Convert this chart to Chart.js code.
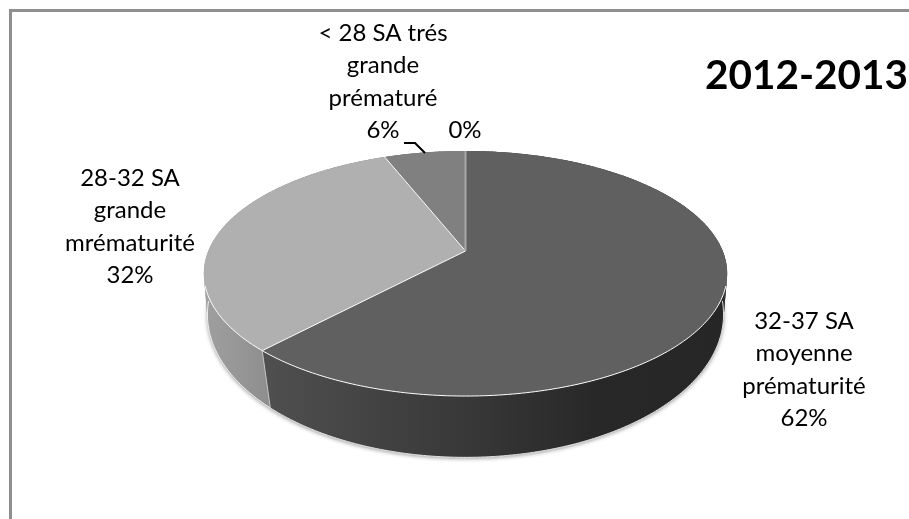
<!DOCTYPE html>
<html>
<head>
<meta charset="utf-8">
<title>2012-2013</title>
<script src="https://cdn.jsdelivr.net/npm/chart.js@4"></script>
<style>
  html, body { margin: 0; padding: 0; background: #fff; }
  canvas { display: block; }
</style>
</head>
<body>
<canvas id="myChart" width="909" height="519"></canvas>
<script>
const categories = [
    ['32-37 SA', 'moyenne', 'prématurité'],
    ['28-32 SA', 'grande', 'mrématurité'],
    ['< 28 SA trés', 'grande', 'prématuré'],
    []
];
const shares = [62, 32, 6, 0];
const sliceColors = ['#606060', '#b0b0b0', '#808080', '#8c8c8c'];
const chartTitle = '2012-2013';

const FONT = 'Lato, "Open Sans", sans-serif';

// tilted disc: the near half of each rim is bigger than the far half
const upperRim = { cx: 465.5, cy: 251, rx: 257.2, ry: 118.4, tilt: 0.1837 };
const lowerRim = { cx: 465.5, cy: 294, rx: 255.4, ry: 140, tilt: 0.143 };

function rimPoint(angle, lower) {
    const r = lower ? lowerRim : upperRim;
    const d = 1 - r.tilt * Math.sin(angle);
    return {
        x: r.cx + r.rx * Math.cos(angle) / d,
        y: r.cy + r.ry * Math.sin(angle) / d
    };
}

function traceRim(ctx, from, to, lower, moveFirst) {
    const steps = Math.max(1, Math.ceil(Math.abs(to - from) / 0.015));
    for (let i = 0; i <= steps; i++) {
        const p = rimPoint(from + (to - from) * i / steps, lower);
        if (i === 0 && moveFirst) ctx.moveTo(p.x, p.y);
        else ctx.lineTo(p.x, p.y);
    }
}

function wallGradient(ctx, stops) {
    const g = ctx.createLinearGradient(205, 0, 727, 0);
    stops.forEach(s => g.addColorStop(s[0], s[1]));
    return g;
}

const pie3d = {
    id: 'pie3d',
    beforeDraw(chart) {
        // frame runs off the top right and bottom left of the page
        const ctx = chart.ctx;
        ctx.save();
        ctx.strokeStyle = '#8f8f8f';
        ctx.lineWidth = 3;
        ctx.beginPath();
        ctx.moveTo(10.5, 519);
        ctx.lineTo(10.5, 10.5);
        ctx.lineTo(909, 10.5);
        ctx.stroke();
        ctx.restore();
    },
    beforeDatasetsDraw(chart) {
        const ctx = chart.ctx;
        const arcs = chart.getDatasetMeta(0).data;
        const walls = [
            wallGradient(ctx, [[0, '#525252'], [0.12, '#4f4f4f'], [0.5, '#383838'], [0.75, '#282828'], [1, '#262626']]),
            wallGradient(ctx, [[0, '#a0a0a0'], [0.12, '#8e8e8e'], [1, '#8e8e8e']]),
            '#666666',
            '#666666'
        ];
        ctx.save();

        // soft shadow under the disc
        ctx.save();
        ctx.shadowColor = 'rgba(0,0,0,0.45)';
        ctx.shadowBlur = 4;
        ctx.shadowOffsetY = 1;
        ctx.fillStyle = wallGradient(ctx, [[0, '#969696'], [0.125, '#8e8e8e'], [0.125, '#4f4f4f'], [1, '#262626']]);
        ctx.beginPath();
        traceRim(ctx, 0, Math.PI * 2, true, true);
        ctx.closePath();
        ctx.fill();
        ctx.restore();

        // side walls, the top faces cover whatever is at the back
        arcs.forEach((arc, i) => {
            if (arc.endAngle <= arc.startAngle) return;
            const step = 0.015;
            ctx.fillStyle = walls[i];
            for (let a = arc.startAngle; a < arc.endAngle; a += step) {
                const b = Math.min(a + step + 0.004, arc.endAngle);
                const p1 = rimPoint(a, false), p2 = rimPoint(b, false);
                const p3 = rimPoint(b, true), p4 = rimPoint(a, true);
                ctx.beginPath();
                ctx.moveTo(p1.x, p1.y);
                ctx.lineTo(p2.x, p2.y);
                ctx.lineTo(p3.x, p3.y);
                ctx.lineTo(p4.x, p4.y);
                ctx.closePath();
                ctx.fill();
            }
        });

        // light edges along the lower rim and between the walls
        ctx.strokeStyle = 'rgba(255,255,255,0.85)';
        ctx.lineWidth = 1;
        ctx.beginPath();
        traceRim(ctx, 0.05, Math.PI - 0.05, true, true);
        ctx.stroke();
        arcs.forEach(arc => {
            if (Math.sin(arc.endAngle) > 0.05) {
                const a = rimPoint(arc.endAngle, false), b = rimPoint(arc.endAngle, true);
                ctx.strokeStyle = '#c4c4c4';
                ctx.beginPath();
                ctx.moveTo(a.x, a.y);
                ctx.lineTo(b.x, b.y);
                ctx.stroke();
            }
        });

        // top faces
        arcs.forEach(arc => {
            ctx.fillStyle = arc.options.backgroundColor;
            ctx.beginPath();
            ctx.moveTo(upperRim.cx, upperRim.cy);
            traceRim(ctx, arc.startAngle, arc.endAngle, false, false);
            ctx.closePath();
            ctx.fill();
        });

        // seams on the top face
        arcs.forEach(arc => {
            const zero = arc.endAngle <= arc.startAngle;
            const p = rimPoint(arc.startAngle, false);
            ctx.strokeStyle = zero ? '#a8a8a8' : '#ffffff';
            ctx.lineWidth = zero ? 2 : 1;
            ctx.beginPath();
            ctx.moveTo(upperRim.cx, upperRim.cy);
            ctx.lineTo(p.x, p.y);
            ctx.stroke();
        });
        ctx.strokeStyle = '#ffffff';
        ctx.lineWidth = 1;
        ctx.beginPath();
        traceRim(ctx, 0.284, Math.PI - 0.284, false, true);
        ctx.stroke();

        ctx.restore();
        return false; // the arcs are already painted
    },
    afterDraw(chart) {
        const ctx = chart.ctx;
        const boxes = [
            { x: 804, y: 321 },
            { x: 130, y: 178 },
            { x: 383, y: 33 },
            { x: 465, y: 130 }
        ];
        const lineGap = 32.5;
        ctx.save();
        ctx.fillStyle = '#000';
        ctx.textAlign = 'center';
        ctx.textBaseline = 'middle';
        ctx.font = '24px ' + FONT;
        shares.forEach((v, i) => {
            const lines = categories[i].concat([v + '%']);
            lines.forEach((t, n) => ctx.fillText(t, boxes[i].x, boxes[i].y + n * lineGap));
        });

        // leader from the 6% label to its slice
        ctx.strokeStyle = '#000';
        ctx.lineWidth = 2;
        ctx.beginPath();
        ctx.moveTo(404, 143);
        ctx.lineTo(415, 143);
        ctx.lineTo(425, 153);
        ctx.stroke();

        ctx.font = 'bold 40.5px ' + FONT;
        ctx.textAlign = 'left';
        ctx.fillText(chartTitle, 705, 76);
        ctx.restore();
    }
};

const myChart = new Chart(document.getElementById('myChart'), {
    type: 'pie',
    data: {
        labels: categories.map(c => c.join(' ')),
        datasets: [{
            data: shares,
            backgroundColor: sliceColors
        }]
    },
    options: {
        responsive: false,
        animation: false,
        plugins: {
            legend: { display: false },
            tooltip: { enabled: false }
        }
    },
    plugins: [pie3d]
});
</script>
</body>
</html>
